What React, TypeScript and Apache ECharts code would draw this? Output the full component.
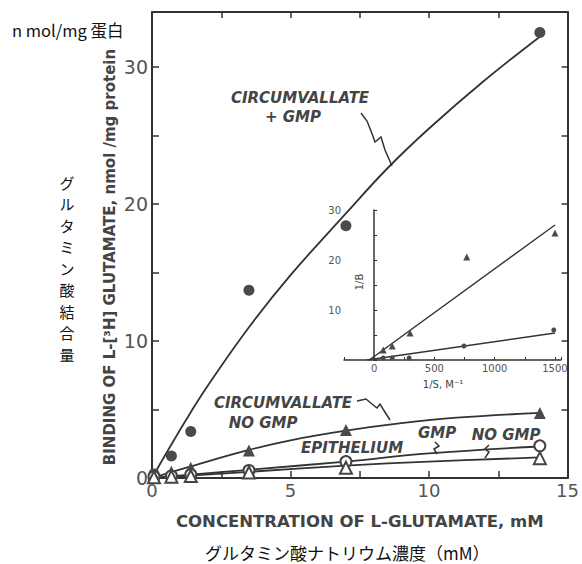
import React, { useEffect, useRef } from "react";
import * as echarts from "echarts";

// ---- main chart data (mM, nmol/mg protein) ----
const circumGmpPts = [[0.07, 0.3], [0.7, 1.6], [1.4, 3.4], [3.5, 13.7], [7, 18.4], [14, 32.5]];
const circumGmpCurve = [[0, 0], [0.7, 2.45], [1.4, 4.8], [2, 6.7], [3.5, 11.0], [5, 14.8], [7, 19.3], [8.5, 22.6], [10, 25.5], [12, 29.0], [14, 32.2]];
const circumNoGmpPts = [[0.07, 0.2], [0.7, 0.45], [1.4, 0.75], [3.5, 2.0], [7, 3.5], [14, 4.75]];
const circumNoGmpCurve = [[0, 0], [1.4, 0.85], [3.5, 2.05], [5, 2.75], [7, 3.45], [9, 4.0], [11, 4.4], [14, 4.75]];
const epiGmpPts = [[0.07, 0.1], [0.7, 0.15], [1.4, 0.25], [3.5, 0.55], [7, 1.2], [14, 2.35]];
const epiGmpLine = [[0, 0], [3.5, 0.6], [7, 1.2], [10, 1.8], [14, 2.3]];
const epiNoGmpPts = [[0.07, 0.05], [0.7, 0.1], [1.4, 0.15], [3.5, 0.4], [7, 0.75], [14, 1.45]];
const epiNoGmpLine = [[0, 0], [3.5, 0.45], [7, 0.9], [10, 1.2], [14, 1.5]];

// ---- inset (double reciprocal) ----
const insetGmpPts = [[75, 2.0], [150, 2.8], [298, 5.4], [768, 20.6], [1500, 25.4]];
const insetGmpLine = [[-40, 0], [1500, 27]];
const insetNoGmpPts = [[75, 0.4], [150, 0.4], [290, 0.4], [745, 2.8], [1490, 6.0]];
const insetNoGmpLine = [[-60, 0], [1500, 5.4]];

// ---- text ----
const xName = "CONCENTRATION OF L-GLUTAMATE, mM";
const yName = "BINDING OF L-[³H] GLUTAMATE, nmol /mg protein";
const jpUnit = "n mol/mg 蛋白";
const jpY = "グルタミン酸結合量";
const jpX = "グルタミン酸ナトリウム濃度（mM）";

const FONT = "DejaVu Sans, Liberation Sans, sans-serif";
const JP = "Noto Sans CJK JP, sans-serif";
const INK = "#333";

function label(text: string, x: number, y: number, size = 15) {
  return {
    type: "text",
    x,
    y,
    z: 100,
    style: {
      text,
      fontSize: size,
      fontFamily: FONT,
      fontWeight: "bold",
      fontStyle: "italic",
      fill: "#444",
      align: "center",
      textAlign: "center",
      verticalAlign: "middle",
      textVerticalAlign: "middle",
    },
  };
}

function squiggle(points: number[][]) {
  return {
    type: "polyline",
    z: 100,
    shape: { points },
    style: { stroke: INK, lineWidth: 1.5, fill: null },
  };
}

export default function App() {
  const ref = useRef<HTMLDivElement>(null);
  useEffect(() => {
    if (!ref.current) return;
    const chart = echarts.init(ref.current, undefined, { renderer: "svg" });
    const axisLine = { onZero: false, lineStyle: { color: INK, width: 2 } };
    const tick = (len: number) => ({ inside: true, length: len, lineStyle: { color: INK, width: 1.5 } });
    const lineS = (data: number[][], smooth: boolean | number, xi = 0, yi = 0) => ({
      type: "line",
      data,
      xAxisIndex: xi,
      yAxisIndex: yi,
      smooth,
      symbol: "none",
      lineStyle: { color: INK, width: 1.8 },
      z: 2,
    });
    const pts = (data: number[][], symbol: string, size: number, open: boolean, xi = 0, yi = 0) => ({
      type: "scatter",
      data,
      xAxisIndex: xi,
      yAxisIndex: yi,
      symbol,
      symbolSize: size,
      itemStyle: open
        ? { color: "#fff", borderColor: "#444", borderWidth: 2, opacity: 1 }
        : { color: "#4a4a4a", opacity: 1 },
      z: 5,
    });
    const jpChars = jpY.split("").map((ch, i) => ({
      type: "text",
      x: 67,
      y: 182 + i * 21.5,
      style: { text: ch, fontSize: 15, fontFamily: JP, fill: "#111", align: "center", textAlign: "center", verticalAlign: "middle", textVerticalAlign: "middle" },
    }));
    chart.setOption({
      animation: false,
      backgroundColor: "#fff",
      grid: [
        { left: 152, right: 3, top: 12, bottom: 86 },
        { left: 344, right: 21, top: 210, bottom: 204 },
      ],
      xAxis: [
        {
          gridIndex: 0, type: "value", min: 0, max: 15, interval: 2.5, position: "bottom",
          axisLine, axisTick: tick(7), splitLine: { show: false },
          axisLabel: { formatter: (v: number) => (v % 5 === 0 ? String(v) : ""), fontSize: 18, color: "#555", margin: 3, fontFamily: FONT },
          name: xName, nameLocation: "middle", nameGap: 35,
          nameTextStyle: { fontSize: 16.5, color: "#444", fontWeight: "bold", fontFamily: FONT },
        },
        {
          gridIndex: 0, type: "value", min: 0, max: 15, interval: 2.5, position: "top",
          axisLine, axisTick: tick(6), axisLabel: { show: false }, splitLine: { show: false },
        },
        {
          gridIndex: 1, type: "value", min: -250, max: 1550, interval: 250,
          axisLine: { onZero: true, lineStyle: { color: INK, width: 1.5 } },
          axisTick: { inside: true, length: 3, lineStyle: { color: INK } },
          splitLine: { show: false },
          axisLabel: { formatter: (v: number) => (v >= 0 && v % 500 === 0 ? String(v) : ""), fontSize: 10, color: "#555", margin: 3, fontFamily: FONT },
        },
      ],
      yAxis: [
        {
          gridIndex: 0, type: "value", min: 0, max: 34, interval: 5, position: "left",
          axisLine, axisTick: tick(7), splitLine: { show: false },
          axisLabel: { formatter: (v: number) => (v % 10 === 0 ? String(v) : ""), fontSize: 19, color: "#555", margin: 4, fontFamily: FONT },
        },
        {
          gridIndex: 0, type: "value", min: 0, max: 34, interval: 5, position: "right",
          axisLine, axisTick: tick(6), axisLabel: { show: false }, splitLine: { show: false },
        },
        {
          gridIndex: 1, type: "value", min: 0, max: 30, interval: 5,
          axisLine: { onZero: true, lineStyle: { color: INK, width: 1.5 } },
          axisTick: { inside: true, length: 3, lineStyle: { color: INK } },
          splitLine: { show: false },
          axisLabel: { formatter: (v: number) => (v > 0 && v % 10 === 0 ? String(v) : ""), fontSize: 10, color: "#555", margin: 3, fontFamily: FONT },
        },
      ],
      series: [
        lineS(circumGmpCurve, 0.4),
        lineS(circumNoGmpCurve, 0.4),
        lineS(epiGmpLine, 0.4),
        lineS(epiNoGmpLine, 0.4),
        pts(circumGmpPts, "circle", 11, false),
        pts(circumNoGmpPts, "triangle", 12, false),
        pts(epiGmpPts, "circle", 11, true),
        pts(epiNoGmpPts, "triangle", 12, true),
        { ...lineS(insetGmpLine, false, 2, 2), lineStyle: { color: INK, width: 1.4 } },
        { ...lineS(insetNoGmpLine, false, 2, 2), lineStyle: { color: INK, width: 1.4 } },
        pts(insetGmpPts, "triangle", 7, false, 2, 2),
        pts(insetNoGmpPts, "circle", 5, false, 2, 2),
      ],
      graphic: [
        { type: "text", x: 12, y: 30, style: { text: jpUnit, fontSize: 16.5, fontFamily: JP, fill: "#111", verticalAlign: "middle", textVerticalAlign: "middle" } },
        ...jpChars,
        { type: "text", x: 205, y: 552, style: { text: jpX, fontSize: 17, fontFamily: JP, fill: "#111", verticalAlign: "middle", textVerticalAlign: "middle" } },
        { type: "text", x: 110, y: 257, rotation: Math.PI / 2, style: { text: yName, fontSize: 15, fontWeight: "bold", fontFamily: FONT, fill: "#444", align: "center", textAlign: "center", verticalAlign: "middle", textVerticalAlign: "middle" } },
        { type: "text", x: 359, y: 282, rotation: Math.PI / 2, style: { text: "1/B", fontSize: 10, fontFamily: FONT, fill: "#444", align: "center", textAlign: "center", verticalAlign: "middle", textVerticalAlign: "middle" } },
        { type: "text", x: 443, y: 384, style: { text: "1/S, M⁻¹", fontSize: 10, fontFamily: FONT, fill: "#444", align: "center", textAlign: "center", verticalAlign: "middle", textVerticalAlign: "middle" } },
        label("CIRCUMVALLATE", 300, 98),
        label("+ GMP", 293, 117),
        label("CIRCUMVALLATE", 283, 403),
        label("NO GMP", 263, 423),
        label("EPITHELIUM", 352, 448),
        label("GMP", 437, 433),
        label("NO GMP", 506, 435),
        squiggle([[361, 113], [367, 121], [371, 131], [375, 142], [381, 137], [385, 150], [392, 166]]),
        squiggle([[357, 401], [366, 399], [372, 404], [377, 408], [380, 404], [383, 409], [390, 420]]),
        squiggle([[435, 442], [439, 446], [434, 449], [437, 454]]),
        squiggle([[489, 445], [485, 449], [489, 452], [485, 458]]),
      ],
    });
    return () => chart.dispose();
  }, []);
  return <div ref={ref} style={{ position: "absolute", left: 0, top: 0, width: 582, height: 564 }} />;
}
